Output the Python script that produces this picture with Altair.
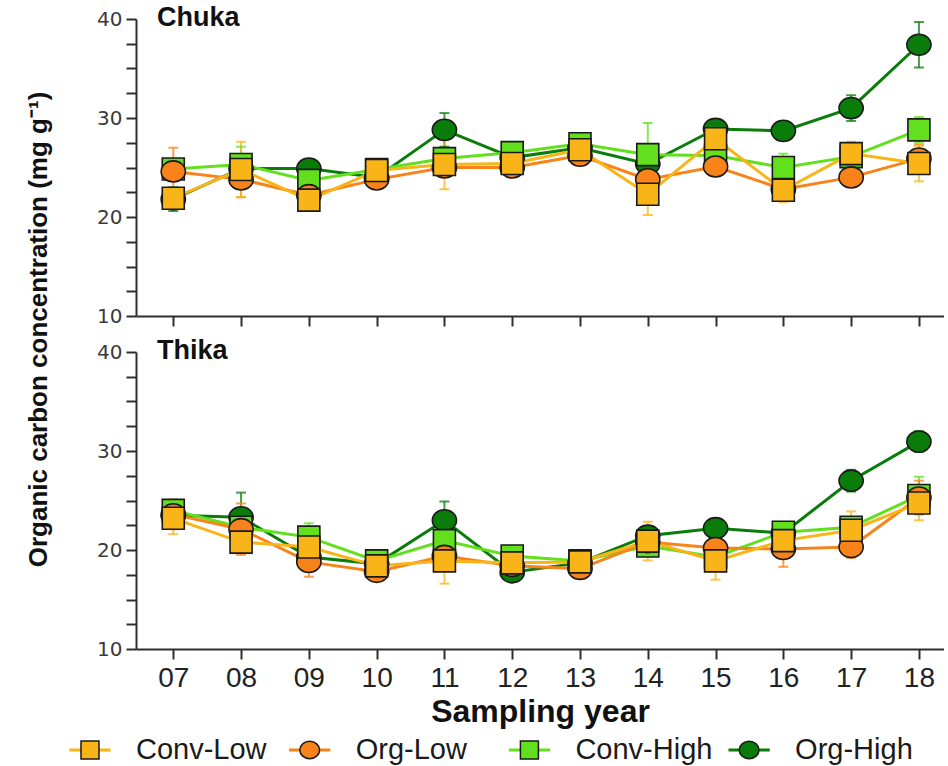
import altair as alt
import pandas as pd

# Sampling years (20xx) and treatments
years = list(range(7, 19))
series = ["Conv-Low", "Org-Low", "Conv-High", "Org-High"]
series_colors = ["#F9B418", "#F7831A", "#62E01E", "#0A7C0A"]
sites = ["Chuka", "Thika"]

# Chuka: mean organic carbon (mg/g) and standard error per year
chuka_conv_low = [21.9, 24.8, 21.7, 24.7, 25.3, 25.4, 26.8, 22.3, 27.9, 22.7, 26.4, 25.4]
chuka_conv_low_se = [0.9, 2.8, 0.4, 0.5, 2.5, 0.5, 0.4, 2.1, 0.5, 1.2, 1.2, 1.8]
chuka_org_low = [24.6, 23.8, 22.2, 23.8, 25.0, 25.0, 26.2, 23.8, 25.1, 22.8, 24.0, 25.9]
chuka_org_low_se = [2.4, 1.8, 0.5, 0.4, 0.6, 0.4, 0.4, 0.5, 0.4, 0.5, 0.4, 1.4]
chuka_conv_high = [24.85, 25.3, 23.7, 24.8, 25.9, 26.5, 27.4, 26.3, 26.2, 25.0, 26.1, 28.8]
chuka_conv_high_se = [0.5, 1.8, 0.5, 0.4, 0.6, 0.4, 0.4, 3.2, 0.5, 1.4, 0.5, 1.3]
chuka_org_high = [21.8, 24.9, 24.9, 24.0, 28.8, 26.0, 27.0, 25.35, 28.9, 28.7, 31.0, 37.4]
chuka_org_high_se = [1.2, 0.5, 0.4, 0.4, 1.7, 0.4, 0.4, 0.5, 0.5, 0.4, 1.3, 2.3]

# Thika: mean organic carbon (mg/g) and standard error per year
thika_conv_low = [23.2, 20.8, 20.3, 18.4, 18.9, 18.7, 18.8, 20.9, 18.9, 20.95, 22.0, 24.75]
thika_conv_low_se = [1.6, 0.8, 0.6, 0.4, 2.3, 0.4, 0.4, 1.95, 1.9, 0.6, 1.9, 1.75]
thika_org_low = [23.6, 22.1, 18.8, 17.8, 19.4, 18.4, 18.1, 20.8, 20.2, 20.1, 20.3, 25.3]
thika_org_low_se = [1.5, 2.6, 1.5, 0.4, 0.5, 0.4, 0.4, 0.5, 0.5, 1.8, 1.1, 1.7]
thika_conv_high = [24.0, 22.3, 21.3, 18.9, 20.95, 19.4, 18.9, 20.4, 19.3, 21.8, 22.3, 25.5]
thika_conv_high_se = [0.6, 0.5, 1.4, 0.4, 0.5, 0.4, 0.4, 0.5, 0.5, 1.0, 0.5, 1.9]
thika_org_high = [23.5, 23.3, 19.3, 18.6, 23.0, 17.75, 18.7, 21.45, 22.2, 21.7, 27.0, 30.95]
thika_org_high_se = [0.5, 2.5, 0.5, 0.4, 1.9, 0.4, 0.4, 0.5, 0.4, 0.5, 1.1, 1.05]

y_ticks = [10, 12.5, 15, 17.5, 20, 22.5, 25, 27.5, 30, 32.5, 35, 37.5, 40]
X_DOMAIN = [6.45, 18.37]
Y_DOMAIN = [10, 40]

measurements = {
    ("Chuka", "Conv-Low"): (chuka_conv_low, chuka_conv_low_se),
    ("Chuka", "Org-Low"): (chuka_org_low, chuka_org_low_se),
    ("Chuka", "Conv-High"): (chuka_conv_high, chuka_conv_high_se),
    ("Chuka", "Org-High"): (chuka_org_high, chuka_org_high_se),
    ("Thika", "Conv-Low"): (thika_conv_low, thika_conv_low_se),
    ("Thika", "Org-Low"): (thika_org_low, thika_org_low_se),
    ("Thika", "Conv-High"): (thika_conv_high, thika_conv_high_se),
    ("Thika", "Org-High"): (thika_org_high, thika_org_high_se),
}

rows = []
for (site, name), (means, ses) in measurements.items():
    for yr, m, se in zip(years, means, ses):
        rows.append({
            "site": site, "series": name,
            "year": yr, "mean": m, "lo": m - se, "hi": m + se,
            # later treatments in the legend are drawn underneath
            "rank": len(series) - 1 - series.index(name),
        })
df = pd.DataFrame(rows).sort_values(["rank", "year"]).reset_index(drop=True)

FONT = "Liberation Sans"
AXIS_COLOR = "#2e2e2e"
MARKER_STROKE = "#1a1a1a"

square_path = "M-1,-1H1V1H-1Z"
circle_path = "M1.1,0A1.1,0.96 0 1,1 -1.1,0A1.1,0.96 0 1,1 1.1,0Z"
series_shapes = [square_path, circle_path, square_path, circle_path]

color_scale = alt.Scale(domain=series, range=series_colors)
shape_scale = alt.Scale(domain=series, range=series_shapes)

PLOT_W, PLOT_H = 808, 297
GAP = 36


def panel(site, bottom):
    data = df[df.site == site]
    x_axis = alt.Axis(
        values=years, labelExpr="format(datum.value, '02d')", labels=bottom,
        title="Sampling year" if bottom else None,
        titleFont=FONT, titleFontSize=32, titleFontWeight="bold", titleColor="#111",
        titlePadding=4,
        labelFont=FONT, labelFontSize=28, labelColor="#222", labelPadding=5,
        grid=False, domainColor=AXIS_COLOR, domainWidth=2,
        tickColor=AXIS_COLOR, tickWidth=2, tickSize=10,
    )
    y_axis = alt.Axis(
        values=y_ticks,
        labelExpr="datum.value % 10 === 0 ? datum.label : ''",
        title="Organic carbon concentration (mg g⁻¹)" if not bottom else None,
        titleFont=FONT, titleFontSize=26, titleFontWeight="bold", titleColor="#111",
        titleY=PLOT_H + 13, titlePadding=45,
        labelFont="DejaVu Sans", labelFontSize=20, labelColor="#3a3a3a", labelPadding=4,
        grid=False, domainColor=AXIS_COLOR, domainWidth=2,
        tickColor=AXIS_COLOR, tickWidth=2, tickSize=10,
    )
    x_scale = alt.Scale(domain=X_DOMAIN, nice=False, zero=False)
    y_scale = alt.Scale(domain=Y_DOMAIN, nice=False, zero=False)
    color = alt.Color("series:N", scale=color_scale, legend=None)

    base = alt.Chart(data)
    x_enc = alt.X("year:Q", scale=x_scale, axis=x_axis)

    bars = base.mark_rule(strokeWidth=2, opacity=0.75).encode(
        x=x_enc, y=alt.Y("lo:Q", scale=y_scale, axis=y_axis), y2="hi:Q", color=color,
    )
    caps_lo = base.mark_tick(orient="horizontal", size=10, thickness=2, opacity=0.75).encode(
        x=x_enc, y=alt.Y("lo:Q", scale=y_scale, axis=y_axis), color=color,
    )
    caps_hi = base.mark_tick(orient="horizontal", size=10, thickness=2, opacity=0.75).encode(
        x=x_enc, y=alt.Y("hi:Q", scale=y_scale, axis=y_axis), color=color,
    )
    lines = base.mark_line(strokeWidth=3).encode(
        x=x_enc, y=alt.Y("mean:Q", scale=y_scale, axis=y_axis),
        color=color, order="year:Q",
    )
    points = base.mark_point(filled=True, size=484, stroke=MARKER_STROKE,
                             strokeWidth=1.6, opacity=1).encode(
        x=x_enc, y=alt.Y("mean:Q", scale=y_scale, axis=y_axis),
        fill=alt.Fill("series:N", scale=color_scale, legend=None),
        shape=alt.Shape("series:N", scale=shape_scale, legend=None),
        order="rank:Q",
    )
    # site name in the top-left corner of the panel
    label = alt.Chart(pd.DataFrame({"site": [site]})).mark_text(
        align="left", baseline="alphabetic", dx=21, dy=7,
        font=FONT, fontSize=27, fontWeight="bold", color="#111",
    ).encode(
        x=alt.X(datum=X_DOMAIN[0], type="quantitative", scale=x_scale, axis=x_axis),
        y=alt.Y(datum=Y_DOMAIN[1], type="quantitative", scale=y_scale, axis=y_axis),
        text="site:N",
    )
    return alt.layer(bars, caps_lo, caps_hi, lines, points, label).properties(
        width=PLOT_W, height=PLOT_H
    )


# Legend row: a short coloured line through each marker, then the name.
legend_df = pd.DataFrame({"series": series, "slot": list(range(len(series))), "row": 0})
LEGEND_DOMAIN = [0.2094, 3.887]   # slot positions across the legend row
STUB = 0.094                      # half-length of the line sample, in slots
LEGEND_DROP = 30                  # legend sits near the foot of its row
legend_base = alt.Chart(legend_df).transform_calculate(
    a=f"datum.slot - {STUB}", b=f"datum.slot + {STUB}"
)
lx = alt.Scale(domain=LEGEND_DOMAIN, nice=False, zero=False)
ly = alt.Y("row:O", axis=None)
legend_lines = legend_base.mark_rule(strokeWidth=3, yOffset=LEGEND_DROP).encode(
    x=alt.X("a:Q", scale=lx, axis=None), x2="b:Q", y=ly,
    color=alt.Color("series:N", scale=color_scale, legend=None),
)
legend_marks = legend_base.mark_point(filled=True, size=324, stroke=MARKER_STROKE,
                                      strokeWidth=1.5, opacity=1,
                                      yOffset=LEGEND_DROP).encode(
    x=alt.X("slot:Q", scale=lx, axis=None), y=ly,
    fill=alt.Fill("series:N", scale=color_scale, legend=None),
    shape=alt.Shape("series:N", scale=shape_scale, legend=None),
)
legend_text = legend_base.mark_text(align="left", baseline="middle", dx=46,
                                    yOffset=LEGEND_DROP,
                                    font=FONT, fontSize=29, color="#1a1a1a").encode(
    x=alt.X("slot:Q", scale=lx, axis=None), y=ly, text="series:N",
)
legend_row = alt.layer(legend_lines, legend_marks, legend_text).properties(
    width=PLOT_W, height=70
)

chart = (
    alt.vconcat(panel(sites[0], False), panel(sites[1], True), legend_row,
                spacing=GAP, bounds="flush")
    .resolve_scale(x="independent", y="independent")
    .properties(padding={"left": 25, "top": 4, "right": 0, "bottom": 0}, background="white")
    .configure_view(stroke=None)
)

chart.save("out.html", embed_options={"renderer": "svg", "actions": False})
